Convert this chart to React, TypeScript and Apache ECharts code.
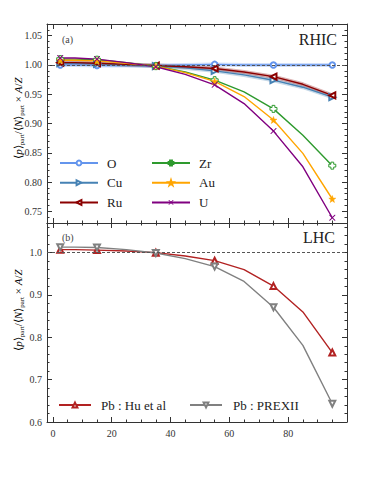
import React, { useEffect, useRef } from "react";
import * as echarts from "echarts";

// Centrality bins (%) – markers on every other point
const centrality = [2.5, 7.5, 15, 25, 35, 45, 55, 65, 75, 85, 95];
const markerIdx = [0, 2, 4, 6, 8, 10];

// RHIC
const O = [1.0, 1.0, 0.999, 0.999, 0.999, 1.0, 1.001, 1.0, 1.0, 1.0, 1.0];
const Cu = [1.003, 1.003, 1.002, 1.0, 0.998, 0.995, 0.99, 0.983, 0.974, 0.962, 0.945];
const Ru = [1.004, 1.004, 1.003, 1.001, 0.999, 0.997, 0.994, 0.988, 0.98, 0.967, 0.948];
const Zr = [1.01, 1.01, 1.009, 1.004, 0.998, 0.988, 0.974, 0.954, 0.925, 0.88, 0.828];
const Au = [1.008, 1.008, 1.007, 1.003, 0.998, 0.987, 0.972, 0.946, 0.906, 0.849, 0.771];
const U = [1.012, 1.012, 1.01, 1.004, 0.997, 0.984, 0.966, 0.934, 0.887, 0.826, 0.739];

// LHC
const PbHu = [1.007, 1.007, 1.006, 1.004, 1.0, 0.992, 0.981, 0.96, 0.921, 0.86, 0.764];
const PbPREX = [1.013, 1.013, 1.012, 1.007, 0.999, 0.986, 0.967, 0.932, 0.871, 0.781, 0.643];

const xMajor = [0, 20, 40, 60, 80, 100];
const xLabels = [0, 20, 40, 60, 80];
const yTopMajor = [0.75, 0.8, 0.85, 0.9, 0.95, 1.0, 1.05];
const yBotMajor = [0.6, 0.7, 0.8, 0.9, 1.0];

const FONT = "Liberation Serif";

const STAR = "path://M0,-10L2.35,-3.24L9.51,-3.09L3.8,1.24L5.88,8.09L0,4L-5.88,8.09L-3.8,1.24L-9.51,-3.09L-2.35,-3.24Z";
const PLUS = "path://M-1.2,-3L1.2,-3L1.2,-1.2L3,-1.2L3,1.2L1.2,1.2L1.2,3L-1.2,3L-1.2,1.2L-3,1.2L-3,-1.2L-1.2,-1.2Z";
const CROSS = "path://M-3,-3L-2.3,-3L0,-0.7L2.3,-3L3,-3L3,-2.3L0.7,0L3,2.3L3,3L2.3,3L0,0.7L-2.3,3L-3,3L-3,2.3L-0.7,0L-3,-2.3Z";

function range(a: number, b: number, step: number, exclude: number[]) {
  const out: number[] = [];
  for (let v = a; v <= b + 1e-9; v += step) {
    const r = Math.round(v * 1000) / 1000;
    if (!exclude.some((e) => Math.abs(e - r) < 1e-6)) out.push(r);
  }
  return out;
}

export default function App() {
  const ref = useRef<HTMLDivElement>(null);
  useEffect(() => {
    if (!ref.current) return;
    const chart = echarts.init(ref.current, null, { renderer: "svg" });

    const frame = "#333";
    const grids = [
      { left: 47, top: 24, width: 300, height: 199 },
      { left: 47, top: 223, width: 300, height: 199 },
    ];

    const xMinor = range(5, 95, 5, xMajor);
    const xAxes: any[] = [];
    const yAxes: any[] = [];
    const yCfg = [
      { min: 0.73, max: 1.07, major: yTopMajor, minor: range(0.74, 1.06, 0.01, yTopMajor), dec: 2 },
      { min: 0.6, max: 1.07, major: yBotMajor, minor: range(0.62, 1.06, 0.02, yBotMajor), dec: 1 },
    ];
    [0, 1].forEach((g) => {
      (["bottom", "top"] as const).forEach((pos) => {
        [true, false].forEach((major) => {
          xAxes.push({
            gridIndex: g,
            type: "value",
            min: -2,
            max: 100,
            position: pos,
            axisLine: { show: major, onZero: false, lineStyle: { color: frame, width: 1 } },
            axisTick: {
              show: true,
              inside: true,
              length: major ? 5 : 2.5,
              customValues: major ? xMajor : xMinor,
              lineStyle: { color: frame, width: 1 },
            },
            axisLabel: {
              show: g === 1 && pos === "bottom" && major,
              customValues: xLabels,
              fontFamily: FONT,
              fontSize: 10,
              color: "#333",
              margin: 6,
            },
            splitLine: { show: false },
          });
        });
      });
      (["left", "right"] as const).forEach((pos) => {
        [true, false].forEach((major) => {
          const c = yCfg[g];
          yAxes.push({
            gridIndex: g,
            type: "value",
            min: c.min,
            max: c.max,
            position: pos,
            axisLine: { show: major, onZero: false, lineStyle: { color: frame, width: 1 } },
            axisTick: {
              show: true,
              inside: true,
              length: major ? 5 : 2.5,
              customValues: major ? c.major : c.minor,
              lineStyle: { color: frame, width: 1 },
            },
            axisLabel: {
              show: pos === "left" && major,
              customValues: c.major,
              formatter: (v: number) => v.toFixed(c.dec),
              fontFamily: FONT,
              fontSize: 10,
              color: "#333",
              margin: 5,
            },
            splitLine: { show: false },
          });
        });
      });
    });

    const mk = (arr: number[]) =>
      centrality.map((x, i) =>
        markerIdx.includes(i) ? { value: [x, arr[i]] } : { value: [x, arr[i]], symbol: "none" }
      );

    const dashLine = {
      silent: true,
      symbol: "none",
      label: { show: false },
      lineStyle: { color: "#555", type: [3, 2], width: 1 },
      data: [{ yAxis: 1.0 }],
    };

    const line = (
      name: string,
      arr: number[],
      color: string,
      symbol: string,
      opts: any = {},
      g = 0
    ) => ({
      name,
      type: "line",
      xAxisIndex: g * 4,
      yAxisIndex: g * 4,
      data: mk(arr),
      symbol,
      symbolSize: opts.size ?? 6,
      symbolRotate: opts.rotate ?? 0,
      showAllSymbol: true,
      lineStyle: { color, width: 1.4 },
      itemStyle: {
        color: opts.fill ?? color,
        borderColor: color,
        borderWidth: opts.bw ?? 1,
      },
      z: 3,
      ...(opts.markLine ? { markLine: dashLine } : {}),
    });

    const band = (arr: number[], color: string) => ({
      type: "line",
      xAxisIndex: 0,
      yAxisIndex: 0,
      data: centrality.map((x, i) => [x, arr[i]]),
      symbol: "none",
      silent: true,
      lineStyle: { color, width: 4, opacity: 0.3 },
      z: 2,
    });

    const series: any[] = [
      band(O, "#6495ED"),
      band(Cu, "#4682B4"),
      band(Ru, "#8B0000"),
      line("O", O, "#6495ED", "emptyCircle", { size: 5.5, markLine: true }),
      line("Cu", Cu, "#4682B4", "emptyTriangle", { rotate: -90 }),
      line("Ru", Ru, "#8B0000", "emptyTriangle", { rotate: 90 }),
      line("Zr", Zr, "#2E9A2E", PLUS, { size: 7, fill: "#fff" }),
      line("Au", Au, "#FFA500", STAR, { size: 7, bw: 0.5 }),
      line("U", U, "#800080", CROSS, { size: 6, bw: 0 }),
      line("Pb : Hu et al", PbHu, "#B22222", "emptyTriangle", { markLine: true }, 1),
      line("Pb : PREXII", PbPREX, "#808080", "emptyTriangle", { rotate: 180 }, 1),
    ];

    const legendBase = {
      orient: "vertical",
      padding: 0,
      itemWidth: 38,
      itemHeight: 6,
      itemGap: 5.7,
      textStyle: { fontFamily: FONT, fontSize: 13, color: "#222", lineHeight: 14, padding: [0, 0, 0, 4] },
      selectedMode: false,
    };

    const ylabel = {
      text: "{t|⟨}{i|p}{t|⟩}{s|part}{t|/⟨}{i|N}{t|⟩}{s|part}{t| × }{i|A}{t|/}{i|Z}",
      rich: {
        t: { fontFamily: FONT, fontSize: 11, color: "#222", lineHeight: 14 },
        i: { fontFamily: FONT, fontSize: 11, fontStyle: "italic", color: "#222", lineHeight: 14 },
        s: { fontFamily: FONT, fontSize: 7, color: "#222", lineHeight: 14, verticalAlign: "bottom", padding: [6, 0, 0, 0] },
      },
      align: "center",
      verticalAlign: "middle",
    };

    chart.setOption({
      animation: false,
      backgroundColor: "#fff",
      textStyle: { fontFamily: FONT },
      grid: grids,
      xAxis: xAxes,
      yAxis: yAxes,
      series,
      legend: [
        { ...legendBase, left: 59, top: 156, data: ["O", "Cu", "Ru"] },
        { ...legendBase, left: 151, top: 156, data: ["Zr", "Au", "U"] },
        { ...legendBase, itemWidth: 32, left: 58, top: 398, data: ["Pb : Hu et al"], textStyle: { ...legendBase.textStyle, padding: [0, 0, 0, 5] } },
        { ...legendBase, itemWidth: 32, left: 189, top: 398, data: ["Pb : PREXII"], textStyle: { ...legendBase.textStyle, padding: [0, 0, 0, 6] } },
      ],
      graphic: [
        { type: "text", left: 62, top: 34, style: { text: "(a)", fontFamily: FONT, fontSize: 10, fill: "#444" } },
        { type: "text", right: 28, top: 31, style: { text: "RHIC", fontFamily: FONT, fontSize: 16, fill: "#222" } },
        { type: "text", left: 62, top: 232, style: { text: "(b)", fontFamily: FONT, fontSize: 10, fill: "#444" } },
        { type: "text", right: 30, top: 229, style: { text: "LHC", fontFamily: FONT, fontSize: 16, fill: "#222" } },
        { type: "text", x: 18, y: 118, rotation: Math.PI / 2, style: { ...ylabel } },
        { type: "text", x: 18, y: 310, rotation: Math.PI / 2, style: { ...ylabel } },
      ],
    });
    return () => chart.dispose();
  }, []);
  return <div ref={ref} style={{ width: 365, height: 486, margin: -8 }} />;
}
